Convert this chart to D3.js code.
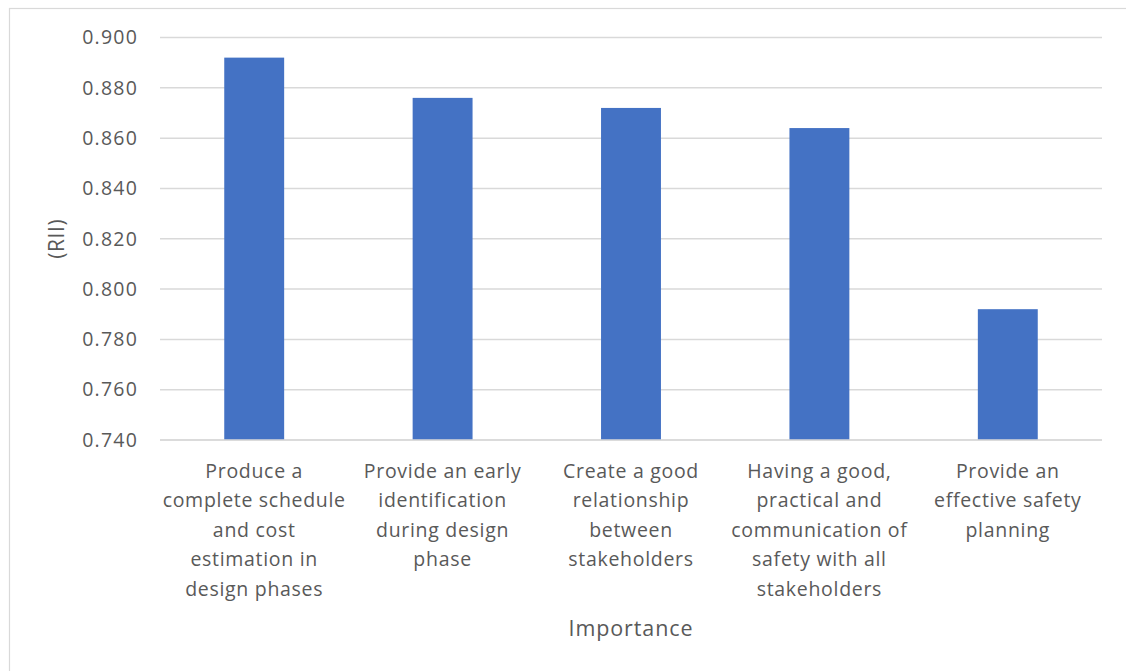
<!DOCTYPE html>
<html>
<head>
<meta charset="utf-8">
<script src="https://cdn.jsdelivr.net/npm/d3@7"></script>
<style>
  html, body { margin: 0; padding: 0; background: #fff; }
  svg { display: block; font-family: "Open Sans", "Noto Sans", sans-serif; }
</style>
</head>
<body>
<svg id="chart" width="1126" height="671"></svg>
<script>
// Relative Importance Index by category
const categories = [
  "Produce a complete schedule and cost estimation in design phases",
  "Provide an early identification during design phase",
  "Create a good relationship between stakeholders",
  "Having a good, practical and communication of safety with all stakeholders",
  "Provide an effective safety planning"
];
const categoryLines = [
  ["Produce a", "complete schedule", "and cost", "estimation in", "design phases"],
  ["Provide an early", "identification", "during design", "phase"],
  ["Create a good", "relationship", "between", "stakeholders"],
  ["Having a good,", "practical and", "communication of", "safety with all", "stakeholders"],
  ["Provide an", "effective safety", "planning"]
];
const rii = [0.892, 0.876, 0.872, 0.864, 0.792];
const yTicks = [0.740, 0.760, 0.780, 0.800, 0.820, 0.840, 0.860, 0.880, 0.900];

const svg = d3.select("#chart");
const W = 1126, H = 671;
const plot = { left: 160, right: 1102, top: 37.5, bottom: 440 };

// outer chart frame
svg.append("rect")
  .attr("x", 9.5).attr("y", 8.5)
  .attr("width", W + 50).attr("height", H + 50)
  .attr("fill", "#fff").attr("stroke", "#d9d9d9").attr("stroke-width", 1.2);

const x = d3.scaleBand()
  .domain(categories)
  .range([plot.left, plot.right])
  .paddingInner(0.682).paddingOuter(0.341);

const y = d3.scaleLinear()
  .domain([0.740, 0.900])
  .range([plot.bottom, plot.top]);

// horizontal gridlines
svg.append("g")
  .selectAll("line")
  .data(yTicks)
  .join("line")
  .attr("x1", plot.left).attr("x2", plot.right)
  .attr("y1", d => y(d)).attr("y2", d => y(d))
  .attr("stroke", "#d9d9d9").attr("stroke-width", 1.5);

// y axis tick labels
const yAxis = d3.axisLeft(y)
  .tickValues(yTicks)
  .tickFormat(d3.format(".3f"))
  .tickSize(0)
  .tickPadding(22);
const yg = svg.append("g")
  .attr("transform", `translate(${plot.left},0)`)
  .call(yAxis);
yg.select(".domain").remove();
yg.selectAll("text")
  .attr("fill", "#595959")
  .style("font-size", "19.5px")
  .style("letter-spacing", "1.2px")
  .style("font-family", "'Open Sans', sans-serif");

// bars
svg.append("g")
  .selectAll("rect")
  .data(categories)
  .join("rect")
  .attr("x", d => x(d))
  .attr("width", x.bandwidth())
  .attr("y", (d, i) => y(rii[i]))
  .attr("height", (d, i) => y(0.740) - y(rii[i]))
  .attr("fill", "#4472c4");

// baseline redrawn above bars
svg.append("line")
  .attr("x1", plot.left).attr("x2", plot.right)
  .attr("y1", y(0.740)).attr("y2", y(0.740))
  .attr("stroke", "#d9d9d9").attr("stroke-width", 1.5);

// x axis category labels (wrapped)
const xAxis = d3.axisBottom(x).tickSize(0).tickFormat(() => "");
const xg = svg.append("g")
  .attr("transform", `translate(0,${plot.bottom})`)
  .call(xAxis);
xg.select(".domain").remove();
xg.selectAll(".tick").each(function(d, i) {
  const t = d3.select(this).select("text")
    .attr("y", 0).attr("dy", null)
    .attr("fill", "#595959")
    .attr("text-anchor", "middle")
    .style("font-size", "19.5px")
    .style("letter-spacing", "0.7px")
    .style("font-family", "'Open Sans', sans-serif");
  t.selectAll("tspan")
    .data(categoryLines[i])
    .join("tspan")
    .attr("x", 0)
    .attr("y", (s, k) => 38 + k * 29.4)
    .text(s => s);
});

// axis titles
svg.append("text")
  .attr("x", (plot.left + plot.right) / 2)
  .attr("y", 636)
  .attr("text-anchor", "middle")
  .attr("fill", "#595959")
  .style("font-size", "21.5px")
  .style("letter-spacing", "0.9px")
  .text("Importance");

svg.append("text")
  .attr("transform", `translate(64,${(plot.top + plot.bottom) / 2}) rotate(-90)`)
  .attr("text-anchor", "middle")
  .attr("fill", "#595959")
  .style("font-size", "21px")
  .style("letter-spacing", "0.6px")
  .text("(RII)");
</script>
</body>
</html>
